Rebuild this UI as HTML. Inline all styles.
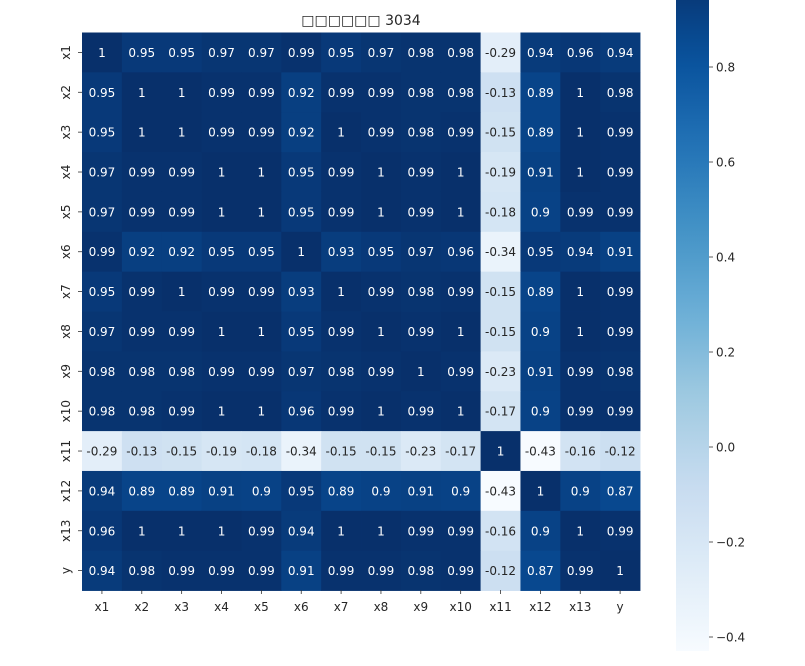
<!DOCTYPE html>
<html><head><meta charset="utf-8"><style>
body{margin:0;background:#fff;width:805px;height:662px;overflow:hidden;font-family:"DejaVu Sans","Liberation Sans",sans-serif;}
svg text{font-family:"DejaVu Sans","Liberation Sans",sans-serif;}
</style></head><body>
<svg id="s" width="805" height="662" xmlns="http://www.w3.org/2000/svg">
<defs><linearGradient id="g" x1="0" y1="1" x2="0" y2="0" id2="g"></linearGradient></defs>
<text x="361" y="25" font-size="14" text-anchor="middle" fill="#262626">□□□□□□ 3034</text>
</svg>
<script>
const L=["x1","x2","x3","x4","x5","x6","x7","x8","x9","x10","x11","x12","x13","y"];
const M=[
[1,.95,.95,.97,.97,.99,.95,.97,.98,.98,-.29,.94,.96,.94],
[.95,1,1,.99,.99,.92,.99,.99,.98,.98,-.13,.89,1,.98],
[.95,1,1,.99,.99,.92,1,.99,.98,.99,-.15,.89,1,.99],
[.97,.99,.99,1,1,.95,.99,1,.99,1,-.19,.91,1,.99],
[.97,.99,.99,1,1,.95,.99,1,.99,1,-.18,.9,.99,.99],
[.99,.92,.92,.95,.95,1,.93,.95,.97,.96,-.34,.95,.94,.91],
[.95,.99,1,.99,.99,.93,1,.99,.98,.99,-.15,.89,1,.99],
[.97,.99,.99,1,1,.95,.99,1,.99,1,-.15,.9,1,.99],
[.98,.98,.98,.99,.99,.97,.98,.99,1,.99,-.23,.91,.99,.98],
[.98,.98,.99,1,1,.96,.99,1,.99,1,-.17,.9,.99,.99],
[-.29,-.13,-.15,-.19,-.18,-.34,-.15,-.15,-.23,-.17,1,-.43,-.16,-.12],
[.94,.89,.89,.91,.9,.95,.89,.9,.91,.9,-.43,1,.9,.87],
[.96,1,1,1,.99,.94,1,1,.99,.99,-.16,.9,1,.99],
[.94,.98,.99,.99,.99,.91,.99,.99,.98,.99,-.12,.87,.99,1]];
const S=["#f7fbff","#deebf7","#c6dbef","#9ecae1","#6baed6","#4292c6","#2171b5","#08519c","#08306b"];
function h(c){return [1,3,5].map(i=>parseInt(c.substr(i,2),16));}
const SR=S.map(h);
const vmin=-0.43,vmax=1;
function col(v){let t=(v-vmin)/(vmax-vmin);t=Math.max(0,Math.min(1,t));let p=t*8,i=Math.min(7,Math.floor(p)),f=p-i;
return SR[i].map((a,k)=>a+(SR[i+1][k]-a)*f);}
function rgb(c){return "rgb("+c.map(Math.round).join(",")+")";}
function lum(c){const l=c.map(x=>{x/=255;return x<=0.03928?x/12.92:Math.pow((x+0.055)/1.055,2.4)});return .2126*l[0]+.7152*l[1]+.0722*l[2];}
const s=document.getElementById("s");let o="";
const X0=82,Y0=32.5,C=39.86;
for(let r=0;r<14;r++)for(let c=0;c<14;c++){const v=M[r][c],cl=col(v);
o+=`<rect x="${X0+c*C}" y="${Y0+r*C}" width="${C+0.4}" height="${C+0.4}" fill="${rgb(cl)}"/>`;
const tc=lum(cl)>0.408?"#262626":"#ffffff";
o+=`<text x="${X0+c*C+C/2}" y="${Y0+r*C+C/2+4.5}" font-size="12" text-anchor="middle" fill="${tc}">${String(v).replace(/^0\./,"0.").replace(/^-0\./,"-0.")}</text>`;}
for(let i=0;i<14;i++){const cx=X0+i*C+C/2,cy=Y0+i*C+C/2;
o+=`<line x1="${cx}" y1="590" x2="${cx}" y2="594" stroke="#333" stroke-width="0.8"/>`;
o+=`<text x="${cx}" y="611" font-size="12" text-anchor="middle" fill="#262626">${L[i]}</text>`;
o+=`<line x1="78" y1="${cy}" x2="82" y2="${cy}" stroke="#333" stroke-width="0.8"/>`;
o+=`<text transform="translate(70,${cy}) rotate(-90)" font-size="12" text-anchor="middle" fill="#262626">${L[i]}</text>`;}
// colorbar
const yv=v=>637-(v+0.4)*475;
let st="";for(let k=0;k<=20;k++){const v=vmin+(0.941-vmin)*k/20;st+=`<stop offset="${k/20}" stop-color="${rgb(col(v))}"/>`;}
o+=`<defs><linearGradient id="cb" x1="0" y1="1" x2="0" y2="0">${st}</linearGradient></defs>`;
o+=`<rect x="676" y="0" width="33" height="651" fill="url(#cb)"/>`;
[0.8,0.6,0.4,0.2,0,-0.2,-0.4].forEach(v=>{const y=yv(v);
o+=`<line x1="709" y1="${y}" x2="713" y2="${y}" stroke="#333" stroke-width="0.8"/>`;
o+=`<text x="716" y="${y+4.5}" font-size="12" fill="#262626">${v<0?"\u2212"+(-v).toFixed(1):v.toFixed(1)}</text>`;});
s.insertAdjacentHTML("beforeend",o);
</script>
</body></html>
